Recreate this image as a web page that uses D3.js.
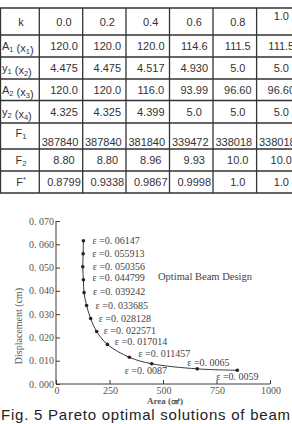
<!DOCTYPE html>
<html>
<head>
<meta charset="utf-8">
<script src="https://cdn.jsdelivr.net/npm/d3@7"></script>
<style>
  body { margin: 0; background: #fff; }
  svg { display: block; }
</style>
</head>
<body>
<div id="chart"></div>
<script>
// table data
let rowLabels = ["k", "A_1 (x_1)", "y_1 (x_2)", "A_2 (x_3)", "y_2 (x_4)", "F_1", "F_2", "F^*"];
let kValues = ["0.0", "0.2", "0.4", "0.6", "0.8", "1.0"];
let a1Values = ["120.0", "120.0", "120.0", "114.6", "111.5", "111.5"];
let y1Values = ["4.475", "4.475", "4.517", "4.930", "5.0", "5.0"];
let a2Values = ["120.0", "120.0", "116.0", "93.99", "96.60", "96.60"];
let y2Values = ["4.325", "4.325", "4.399", "5.0", "5.0", "5.0"];
let f1Values = ["387840", "387840", "381840", "339472", "338018", "338018"];
let f2Values = ["8.80", "8.80", "8.96", "9.93", "10.0", "10.0"];
let fStarValues = ["0.8799", "0.9338", "0.9867", "0.9998", "1.0", "1.0"];

// pareto front data
let areas = [128, 127, 125, 128, 131, 143, 162, 190, 240, 343, 447, 660, 847];
let epsilons = [0.06147, 0.055913, 0.050356, 0.044799, 0.039242, 0.033685, 0.028128,
                0.022571, 0.017014, 0.011457, 0.0087, 0.0065, 0.0059];
let yTicks = [0, 0.01, 0.02, 0.03, 0.04, 0.05, 0.06, 0.07];
let xTicks = [0, 250, 500, 750, 1000];

const width = 292, height = 424;

let svg = d3.select("#chart")
    .append("svg")
    .attr("width", width)
    .attr("height", height);

// ---------- table ----------
let colX = [0.5, 39.3, 82.7, 126, 169.5, 213, 256.6, 300];
let rowY = [8, 35, 57, 79, 100.5, 123, 149, 171, 193];
let rowText = [kValues, a1Values, y1Values, a2Values, y2Values, f1Values, f2Values, fStarValues];

let table = svg.append("g");

table.selectAll("line.h").data(rowY).enter()
    .append("line")
    .attr("x1", 0).attr("x2", width)
    .attr("y1", d => d).attr("y2", d => d)
    .attr("stroke", "#333").attr("stroke-width", 1.3);

table.selectAll("line.v").data(colX).enter()
    .append("line")
    .attr("x1", d => d).attr("x2", d => d)
    .attr("y1", rowY[0]).attr("y2", rowY[rowY.length - 1])
    .attr("stroke", "#333").attr("stroke-width", 1.3);

function addLabel(sel, str) {
    // "_" marks a subscript, "^" a superscript
    let parts = str.split(/([_^].)/).filter(s => s.length);
    parts.forEach(function(p) {
        if (p[0] === "_") {
            sel.append("tspan").attr("font-size", 7.5).attr("dy", 2).text(p[1]);
            sel.append("tspan").attr("dy", -2).text("");
        } else if (p[0] === "^") {
            sel.append("tspan").attr("font-size", 7.5).attr("dy", -4).text(p[1]);
            sel.append("tspan").attr("dy", 4).text("");
        } else {
            sel.append("tspan").text(p);
        }
    });
}

rowLabels.forEach(function(lab, i) {
    let cy = (rowY[i] + rowY[i + 1]) / 2;
    if (i === 5) cy -= 3;
    let centered = lab.indexOf("(") < 0;
    let t = table.append("text")
        .attr("x", centered ? 21 : 2)
        .attr("y", cy + 4)
        .attr("text-anchor", centered ? "middle" : "start")
        .attr("font-family", "Liberation Sans, Arial, sans-serif")
        .attr("font-size", 11)
        .attr("fill", "#333");
    addLabel(t, lab);
});

rowText.forEach(function(vals, i) {
    let cy = (rowY[i] + rowY[i + 1]) / 2;
    table.selectAll(null).data(vals).enter()
        .append("text")
        .attr("x", (d, j) => (colX[j + 1] + colX[j + 2]) / 2 + (i === 5 ? -1 : 3))
        .attr("y", (d, j) => {
            if (i === 0 && j === 5) return cy - 2;
            if (i === 5) return cy + 10;
            return cy + 4;
        })
        .attr("text-anchor", "middle")
        .attr("font-family", "Liberation Sans, Arial, sans-serif")
        .attr("font-size", 11)
        .attr("fill", "#333")
        .text(d => d);
});

// ---------- chart ----------
let x = d3.scaleLinear().domain([0, 1000]).range([56, 270]);
let y = d3.scaleLinear().domain([0, 0.07]).range([384, 221]);

let ink = "#3a3a3a";
let serif = "Liberation Serif, Times New Roman, serif";
let spaced = s => s.replace(".", ". ");

let chart = svg.append("g");

chart.append("g")
    .attr("transform", `translate(${x(0)},0)`)
    .call(d3.axisRight(y).tickValues(yTicks).tickSize(4).tickFormat(""))
    .call(g => g.select(".domain").attr("stroke", ink).attr("d", `M0,${y(0)}V${y(0.07)}`))
    .call(g => g.selectAll(".tick line").attr("stroke", ink));

chart.selectAll("text.ytick").data(yTicks).enter()
    .append("text")
    .attr("x", x(0) - 2)
    .attr("y", d => y(d) + 3.5)
    .attr("text-anchor", "end")
    .attr("font-family", serif)
    .attr("font-size", 10)
    .attr("fill", "#555")
    .text(d => spaced(d3.format(".3f")(d)));

chart.append("g")
    .attr("transform", `translate(0,${y(0)})`)
    .call(d3.axisTop(x).tickValues(xTicks).tickSize(4).tickFormat(""))
    .call(g => g.select(".domain").attr("stroke", ink).attr("d", `M${x(0)},0H${x(1000)}`))
    .call(g => g.selectAll(".tick line").attr("stroke", ink));

chart.selectAll("text.xtick").data(xTicks).enter()
    .append("text")
    .attr("x", d => x(d) + 1)
    .attr("y", 394)
    .attr("text-anchor", "middle")
    .attr("font-family", serif)
    .attr("font-size", 10)
    .attr("fill", "#555")
    .text(d => d);

chart.append("text")
    .attr("x", x(500) + 2)
    .attr("y", 404)
    .attr("text-anchor", "middle")
    .attr("font-family", serif)
    .attr("font-size", 9)
    .attr("font-weight", 700)
    .attr("fill", "#555")
    .text("Area (㎠)");

chart.append("text")
    .attr("transform", "translate(22,326) rotate(-90)")
    .attr("text-anchor", "middle")
    .attr("font-family", serif)
    .attr("font-size", 10)
    .attr("fill", "#555")
    .text("Displacement (cm)");

chart.append("text")
    .attr("x", 158)
    .attr("y", 280)
    .attr("font-family", serif)
    .attr("font-size", 10.5)
    .attr("fill", "#444")
    .text("Optimal Beam Design");

let points = areas.map((a, i) => [a, epsilons[i]]);

chart.append("path")
    .datum(points)
    .attr("fill", "none")
    .attr("stroke", ink)
    .attr("stroke-width", 1)
    .attr("d", d3.line().x(d => x(d[0])).y(d => y(d[1])).curve(d3.curveCatmullRom.alpha(0.5)));

chart.selectAll("circle").data(points).enter()
    .append("circle")
    .attr("cx", d => x(d[0]))
    .attr("cy", d => y(d[1]))
    .attr("r", 1.8)
    .attr("fill", "#222");

// label offsets from each point
let labelDx = [9, 9, 10, 9, 9, 9, 8, 7, 7.5, 9, -27, -10, -21];
let labelDy = [0, 0, 0, -2, -1, 0, 0, -1, -2.5, -4, 7, -6.5, 6.5];

chart.selectAll("text.eps").data(points).enter()
    .append("text")
    .attr("x", (d, i) => x(d[0]) + labelDx[i])
    .attr("y", (d, i) => y(d[1]) + labelDy[i] + 3.5)
    .attr("font-family", serif)
    .attr("font-size", 10)
    .attr("fill", "#444")
    .text(d => "ε =" + spaced(String(d[1])));

// ---------- caption ----------
svg.append("text")
    .attr("x", 1)
    .attr("y", 420)
    .attr("font-family", "Liberation Sans, Arial, sans-serif")
    .attr("font-size", 15)
    .attr("fill", "#222")
    .attr("textLength", 289)
    .attr("lengthAdjust", "spacing")
    .text("Fig. 5 Pareto optimal solutions of beam");
</script>
</body>
</html>
